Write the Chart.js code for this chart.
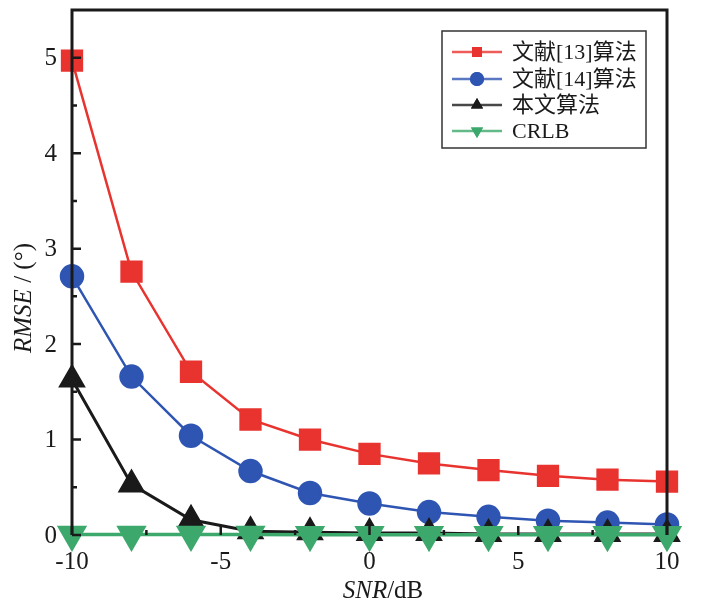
<!DOCTYPE html>
<html>
<head>
<meta charset="utf-8">
<script src="https://cdn.jsdelivr.net/npm/chart.js@4.4.0/dist/chart.umd.min.js"></script>
<style>
  html, body { margin: 0; padding: 0; background: #fff; }
  #wrap { width: 708px; height: 608px; }
</style>
</head>
<body>
<div id="wrap"><canvas id="myChart" width="708" height="608"></canvas></div>
<script>
// data
var snr = [-10, -8, -6, -4, -2, 0, 2, 4, 6, 8, 10];
var ref13 = [4.97, 2.76, 1.71, 1.21, 1.0, 0.85, 0.75, 0.68, 0.62, 0.58, 0.56];
var ref14 = [2.71, 1.66, 1.04, 0.67, 0.44, 0.33, 0.24, 0.19, 0.15, 0.13, 0.11];
var ours = [1.63, 0.53, 0.16, 0.04, 0.03, 0.02, 0.02, 0.01, 0.01, 0.01, 0.01];
var crlb = [0.005, 0.005, 0.004, 0.004, 0.003, 0.003, 0.003, 0.002, 0.002, 0.002, 0.002];
var names = ["文献[13]算法", "文献[14]算法", "本文算法", "CRLB"];
var xTicks = [-10, -5, 0, 5, 10];
var xMinor = [-7.5, -2.5, 2.5, 7.5];
var yTicks = [0, 1, 2, 3, 4, 5];
var yMinor = [0.5, 1.5, 2.5, 3.5, 4.5];

var RED = "#e8332f", BLUE = "#2f55b3", BLACK = "#1a1a1a", GREEN = "#3da86c";
var serif = '"Liberation Serif", "DejaVu Serif", serif';
var cjk = '"Liberation Serif", "Noto Sans CJK SC", serif';

function pts(ys) {
  return snr.map(function (x, i) { return { x: x, y: ys[i] }; });
}

// frame, ticks, labels, titles, legend
var decor = {
  id: "decor",
  afterDatasetsDraw: function (chart) {
    var ctx = chart.ctx, a = chart.chartArea;
    var xs = chart.scales.x, ys = chart.scales.y;
    ctx.save();
    ctx.strokeStyle = "#1a1a1a";
    ctx.lineWidth = 3;
    ctx.beginPath();
    ctx.moveTo(a.left, a.bottom);
    ctx.lineTo(a.left, a.top);
    ctx.lineTo(a.right, a.top);
    ctx.lineTo(a.right, a.bottom);
    ctx.stroke();
    // ticks pointing inwards
    ctx.lineWidth = 2.5;
    ctx.beginPath();
    yTicks.forEach(function (v) {
      var p = ys.getPixelForValue(v);
      ctx.moveTo(a.left, p); ctx.lineTo(a.left + 9, p);
    });
    yMinor.forEach(function (v) {
      var p = ys.getPixelForValue(v);
      ctx.moveTo(a.left, p); ctx.lineTo(a.left + 5, p);
    });
    xTicks.forEach(function (v) {
      var p = xs.getPixelForValue(v);
      ctx.moveTo(p, a.bottom); ctx.lineTo(p, a.bottom - 9);
    });
    xMinor.forEach(function (v) {
      var p = xs.getPixelForValue(v);
      ctx.moveTo(p, a.bottom); ctx.lineTo(p, a.bottom - 5);
    });
    ctx.stroke();

    ctx.fillStyle = "#1a1a1a";
    ctx.font = "25px " + serif;
    ctx.textAlign = "right";
    ctx.textBaseline = "middle";
    yTicks.forEach(function (v) {
      ctx.fillText(String(v), a.left - 15, ys.getPixelForValue(v) + 1);
    });
    ctx.textAlign = "center";
    ctx.textBaseline = "top";
    xTicks.forEach(function (v) {
      ctx.fillText(String(v), xs.getPixelForValue(v), a.bottom + 15);
    });

    // x title: SNR/dB, SNR in italics
    ctx.textAlign = "left";
    ctx.textBaseline = "middle";
    ctx.font = "italic 25px " + serif;
    var w1 = ctx.measureText("SNR").width;
    ctx.font = "25px " + serif;
    var w2 = ctx.measureText("/dB").width;
    var sx = 383 - (w1 + w2) / 2;
    ctx.font = "italic 25px " + serif;
    ctx.fillText("SNR", sx, 591);
    ctx.font = "25px " + serif;
    ctx.fillText("/dB", sx + w1, 591);

    // y title: RMSE/(°)
    ctx.save();
    ctx.translate(24, 298);
    ctx.rotate(-Math.PI / 2);
    ctx.font = "italic 25px " + serif;
    var t1 = ctx.measureText("RMSE").width;
    ctx.font = "25px " + serif;
    var t2 = ctx.measureText(" / (°)").width;
    ctx.font = "italic 25px " + serif;
    ctx.fillText("RMSE", -(t1 + t2) / 2, 0);
    ctx.font = "25px " + serif;
    ctx.fillText(" / (°)", -(t1 + t2) / 2 + t1, 0);
    ctx.restore();

    // legend
    ctx.lineWidth = 1.5;
    ctx.strokeStyle = "#333";
    ctx.strokeRect(442, 31, 204, 117);
    var rows = [52, 79, 105, 131];
    chart.data.datasets.forEach(function (ds, i) {
      var y = rows[i];
      ctx.globalAlpha = 0.8;
      ctx.strokeStyle = ds.borderColor;
      ctx.lineWidth = 2.5;
      ctx.beginPath();
      ctx.moveTo(452, y); ctx.lineTo(502, y);
      ctx.stroke();
      ctx.globalAlpha = 1;
      ctx.fillStyle = ds.backgroundColor;
      Chart.helpers.drawPoint(ctx, {
        pointStyle: ds.pointStyle, rotation: ds.rotation || 0,
        radius: 7, borderWidth: 0
      }, 477, y);
      ctx.fill();
      ctx.fillStyle = "#1a1a1a";
      ctx.font = "22px " + cjk;
      ctx.textAlign = "left";
      ctx.textBaseline = "middle";
      ctx.fillText(ds.label, 512, y + 1);
    });
    ctx.restore();
  }
};

var mychart = document.getElementById("myChart").getContext("2d");
var lineChart = new Chart(mychart, {
  type: "line",
  data: {
    datasets: [
      {
        label: names[0], data: pts(ref13), borderColor: RED, backgroundColor: RED,
        borderWidth: 2.5, pointStyle: "rect", pointRadius: 14, order: 3
      },
      {
        label: names[1], data: pts(ref14), borderColor: BLUE, backgroundColor: BLUE,
        borderWidth: 2.5, pointStyle: "circle", pointRadius: 11, order: 2
      },
      {
        label: names[2], data: pts(ours), borderColor: BLACK, backgroundColor: BLACK,
        borderWidth: 3, pointStyle: "triangle", pointRadius: 13, order: 1
      },
      {
        label: names[3], data: pts(crlb), borderColor: GREEN, backgroundColor: GREEN,
        borderWidth: 3.5, pointStyle: "triangle", rotation: 180, pointRadius: 14, order: 0
      },
    ],
  },
  options: {
    responsive: false,
    animation: false,
    layout: { autoPadding: false, padding: { left: 72, right: 41, top: 10, bottom: 73 } },
    elements: { point: { borderWidth: 0 }, line: { tension: 0 } },
    datasets: { line: { clip: false } },
    scales: {
      x: { type: "linear", min: -10, max: 10, display: false },
      y: { type: "linear", min: 0, max: 5.5, display: false },
    },
    plugins: { legend: { display: false }, tooltip: { enabled: false } },
  },
  plugins: [decor],
});
</script>
</body>
</html>
